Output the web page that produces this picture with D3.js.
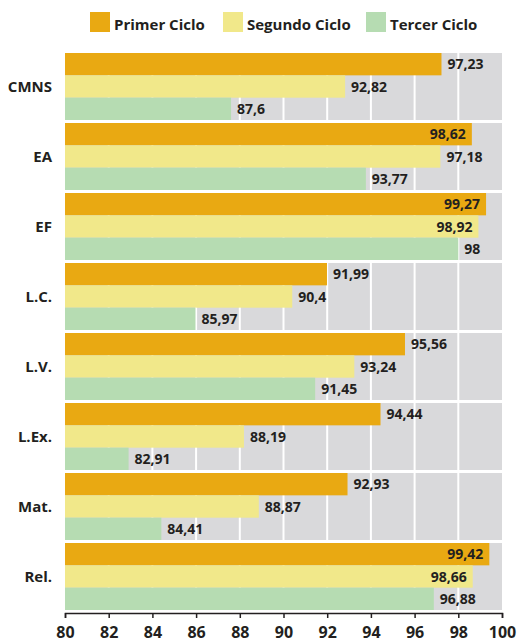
<!DOCTYPE html>
<html>
<head>
<meta charset="utf-8">
<script src="https://cdn.jsdelivr.net/npm/d3@7"></script>
<style>
  body { margin: 0; background: #fff; }
  text { font-family: "Open Sans", sans-serif; font-weight: bold; fill: #231f20; }
</style>
</head>
<body>
<svg width="519" height="642"></svg>
<script>
const categories = ["CMNS", "EA", "EF", "L.C.", "L.V.", "L.Ex.", "Mat.", "Rel."]
const series = ["Primer Ciclo", "Segundo Ciclo", "Tercer Ciclo"]
const primer = [97.23, 98.62, 99.27, 91.99, 95.56, 94.44, 92.93, 99.42]
const segundo = [92.82, 97.18, 98.92, 90.4, 93.24, 88.19, 88.87, 98.66]
const tercer = [87.6, 93.77, 98, 85.97, 91.45, 82.91, 84.41, 96.88]
const ticks = [80, 82, 84, 86, 88, 90, 92, 94, 96, 98, 100]
const colors = ["#e9a912", "#f1e88a", "#b6dcb2"]

const values = [primer, segundo, tercer]
const svg = d3.select("svg"),
    margin = {top: 53, right: 17, bottom: 29, left: 65},
    width = svg.attr("width") - margin.left - margin.right,
    height = svg.attr("height") - margin.top - margin.bottom

const g = svg.append("g").attr("transform", `translate(${margin.left},${margin.top})`)

const x = d3.scaleLinear().domain([80, 100]).range([0, width])
const y = d3.scaleBand().domain(categories).range([0, height]).paddingInner(0).paddingOuter(0)
const gap = 3
const sub = d3.scaleBand().domain(series).range([0, y.bandwidth() - gap])

// grey background + white grid
g.append("rect").attr("width", width).attr("height", height).attr("fill", "#d9d9db")
g.selectAll(".grid").data(ticks.slice(1, -1)).join("line")
  .attr("x1", d => x(d)).attr("x2", d => x(d))
  .attr("y1", 0).attr("y2", height)
  .attr("stroke", "#fff").attr("stroke-width", 2)
g.selectAll(".sep").data(categories).join("rect")
  .attr("x", 0).attr("width", width)
  .attr("y", d => y(d) + y.bandwidth() - gap).attr("height", gap)
  .attr("fill", "#fff")

const rows = []
categories.forEach((c, i) => series.forEach((s, j) => rows.push({c, s, j, v: values[j][i]})))

g.selectAll(".bar").data(rows).join("rect")
  .attr("x", 0)
  .attr("y", d => y(d.c) + sub(d.s))
  .attr("width", d => x(d.v))
  .attr("height", sub.bandwidth())
  .attr("fill", d => colors[d.j])

g.selectAll(".val").data(rows).join("text")
  .attr("y", d => y(d.c) + sub(d.s) + sub.bandwidth() / 2)
  .attr("dy", "0.38em")
  .attr("font-size", 14)
  .text(d => String(d.v).replace(".", ","))
  .each(function(d) {
    const w = this.getComputedTextLength()
    const t = d3.select(this)
    if (x(d.v) + 6 + w > width) t.attr("x", x(d.v) - 6).attr("text-anchor", "end")
    else t.attr("x", x(d.v) + 6)
  })

// category labels
g.selectAll(".cat").data(categories).join("text")
  .attr("x", -13)
  .attr("y", d => y(d) + (y.bandwidth() - gap) / 2)
  .attr("dy", "0.36em")
  .attr("text-anchor", "end")
  .attr("font-size", 15)
  .text(d => d)

// axis
const axis = g.append("g")
  .attr("transform", `translate(0,${height})`)
  .call(d3.axisBottom(x).tickValues(ticks).tickSize(5).tickSizeOuter(5))
axis.select(".domain").attr("stroke", "#231f20").attr("stroke-width", 1.5)
axis.selectAll(".tick line").attr("stroke", "#231f20").attr("stroke-width", 1.5)
axis.selectAll(".tick text").attr("font-size", 16).attr("font-family", null)
  .attr("y", 14).attr("fill", "#231f20")

// legend
const legX = [90, 223, 366]
const leg = svg.append("g").selectAll("g").data(series).join("g")
  .attr("transform", (d, i) => `translate(${legX[i]},12)`)
leg.append("rect").attr("width", 20).attr("height", 20).attr("fill", (d, i) => colors[i])
leg.append("text").attr("x", 24).attr("y", 13).attr("dy", "0.36em")
  .attr("font-size", 15).text(d => d)
</script>
</body>
</html>
